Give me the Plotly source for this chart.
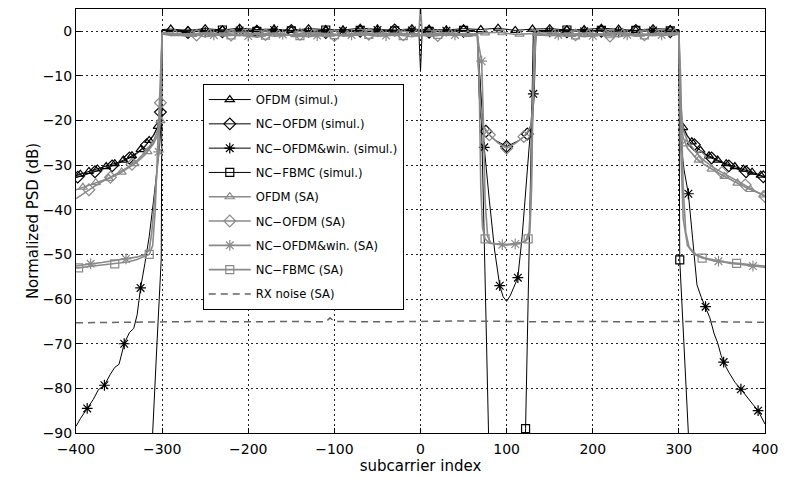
import numpy as np
import plotly.graph_objects as go

# ---------------------------------------------------------------------------
# Normalized PSD (dB) versus subcarrier index
# ---------------------------------------------------------------------------

# shared sample positions
LEFT_OOB = [-400, -390, -380, -370, -360, -350, -340, -330, -320, -310, -305, -301, -300]
RIGHT_OOB = [300, 301, 305, 310, 320, 330, 340, 350, 360, 370, 380, 390, 400]
PB_FULL_L = [-290, -270, -250, -230, -210, -190, -170, -150, -130, -110, -90, -70, -50, -30, -10]
PB_DC = [-2, 0, 2]
PB_FULL_R = [10, 30, 50, 70, 90, 110, 130, 150, 170, 190, 210, 230, 250, 270, 290]
PB_NC_L = [-290, -270, -250, -230, -210, -190, -170, -150, -130, -110, -90, -70, -50, -30, -10, 10, 30, 50]
PB_NC_R = [150, 170, 190, 210, 230, 250, 270, 290]

# ---- OFDM (simul.) --------------------------------------------------------
ofdm_sim_x = LEFT_OOB + PB_FULL_L + PB_DC + PB_FULL_R + RIGHT_OOB
ofdm_sim_y = ([-32.3, -31.7, -31.1, -30.6, -30.0, -29.3, -28.4, -27.3, -25.7, -23.2, -21.3, -18.5, 0.4]
              + [0.5, 0.2, 0.6, 0.3, 0.7, 0.4, 0.5, 0.2, 0.6, 0.4, 0.3, 0.7, 0.5, 0.2, 0.6]
              + [0.4, -9.0, 0.4]
              + [0.5, 0.3, 0.6, 0.4, 0.7, 0.2, 0.5, 0.6, 0.3, 0.4, 0.7, 0.5, 0.2, 0.6, 0.4]
              + [0.4, -18.5, -21.6, -23.6, -25.9, -27.4, -28.4, -29.3, -30.0, -30.6, -31.2, -31.9, -32.6])

# ---- NC-OFDM (simul.) -----------------------------------------------------
nc_ofdm_sim_notch_x = [62, 66, 68, 70, 76, 85, 100, 115, 124, 130, 132, 134, 138]
nc_ofdm_sim_x = LEFT_OOB + PB_NC_L + nc_ofdm_sim_notch_x + PB_NC_R + RIGHT_OOB
nc_ofdm_sim_y = ([-32.8, -32.2, -31.6, -31.0, -30.3, -29.5, -28.6, -27.5, -25.9, -23.4, -21.4, -17.0, 0.2]
                 + [0.1, -0.3, 0.2, -0.1, 0.3, 0.0, -0.2, 0.2, 0.1, -0.3, 0.2, 0.0, -0.1, 0.3, 0.1, -0.2, 0.2, 0.0]
                 + [0.1, -0.2, -14.0, -19.5, -22.4, -24.2, -25.8, -24.4, -23.0, -20.0, -14.5, -0.3, 0.1]
                 + [0.2, -0.1, 0.3, 0.0, -0.2, 0.2, 0.1, -0.1]
                 + [0.2, -17.0, -21.4, -23.4, -25.9, -27.5, -28.6, -29.5, -30.3, -31.0, -31.6, -32.2, -32.7])

# ---- NC-OFDM&win. (simul.) ------------------------------------------------
nc_win_sim_left_x = [-400, -395, -387, -380, -374, -367, -360, -355, -350, -344, -338, -333, -329,
                     -325, -320, -315, -310, -306, -303, -301, -300]
nc_win_sim_notch_x = [62, 66, 68, 72, 74, 80, 86, 92, 96, 100, 104, 108, 113, 118, 124, 128, 131, 133, 134, 138]
nc_win_sim_right_x = [300, 301, 303, 306, 311, 316, 321, 326, 331, 336, 341, 345, 349, 353, 358, 365,
                      372, 380, 386, 392, 396, 400]
nc_win_sim_x = nc_win_sim_left_x + PB_NC_L + nc_win_sim_notch_x + PB_NC_R + nc_win_sim_right_x
nc_win_sim_y = ([-88.5, -86.8, -84.5, -82.5, -80.3, -79.3, -76.8, -75.3, -74.6, -70.0, -67.5, -66.6, -63.5,
                 -57.5, -52.0, -46.0, -38.0, -31.0, -26.0, -20.0, 0.2]
                + [0.0, 0.3, -0.2, 0.1, 0.2, -0.1, 0.3, 0.0, -0.2, 0.2, 0.1, -0.1, 0.3, 0.0, 0.2, -0.1, 0.1, 0.2]
                + [0.1, -0.2, -8.0, -20.0, -26.0, -38.0, -49.0, -57.0, -59.5, -60.5, -59.3, -57.5, -55.2,
                   -46.0, -32.0, -22.0, -14.0, -5.0, -0.2, 0.1]
                + [-0.1, 0.2, 0.0, 0.3, -0.2, 0.1, 0.2, 0.0]
                + [0.2, -20.0, -26.0, -31.0, -36.4, -46.5, -56.8, -59.6, -61.7, -64.2, -67.8, -69.8, -72.6,
                   -74.6, -76.4, -78.6, -80.2, -82.0, -83.6, -85.0, -86.6, -88.0])

# ---- NC-FBMC (simul.) -----------------------------------------------------
nc_fbmc_sim_notch_x = [62, 66, 68, 70, 73, 76, 79, 82, 100, 119, 122, 125, 128, 130, 131, 138]
nc_fbmc_sim_x = ([-320, -311, -306, -301, -300] + PB_NC_L + nc_fbmc_sim_notch_x + PB_NC_R
                 + [300, 301, 306, 311, 320])
nc_fbmc_sim_y = ([-110.0, -90.0, -70.0, -51.0, 0.3]
                 + [0.2, -0.1, 0.1, 0.3, -0.2, 0.0, 0.2, 0.1, -0.1, 0.3, 0.0, 0.2, -0.2, 0.1, 0.3, 0.0, -0.1, 0.2]
                 + [0.1, -0.2, -8.0, -14.0, -38.0, -65.0, -90.0, -110.0, -130.0, -110.0, -89.0, -60.0,
                    -30.0, -10.0, -0.2, 0.1]
                 + [0.1, 0.3, -0.1, 0.2, 0.0, 0.2, -0.2, 0.1]
                 + [0.3, -51.2, -70.0, -90.0, -110.0])

# ---- OFDM (SA) ------------------------------------------------------------
ofdm_sa_left_x = [-400, -390, -380, -370, -360, -350, -340, -330, -320, -310, -305, -302, -300]
ofdm_sa_right_x = [300, 302, 305, 310, 320, 330, 340, 350, 360, 370, 380, 390, 400]
ofdm_sa_x = ofdm_sa_left_x + PB_FULL_L + PB_DC + PB_FULL_R + ofdm_sa_right_x
ofdm_sa_y = ([-35.5, -34.8, -34.1, -33.5, -32.8, -31.9, -30.7, -29.4, -27.7, -25.2, -23.2, -20.0, -0.3]
             + [-0.4, -0.8, -0.3, -0.6, -0.2, -0.7, -0.4, -0.9, -0.3, -0.5, -0.8, -0.2, -0.6, -0.4, -0.7]
             + [-0.5, 5.5, -0.5]
             + [-0.6, -0.3, -0.8, -0.4, -0.2, -0.7, -0.5, -0.3, -0.8, -0.4, -0.6, -0.2, -0.7, -0.5, -0.3]
             + [-0.3, -20.0, -23.8, -26.2, -28.4, -29.9, -31.1, -32.2, -33.2, -34.2, -35.2, -36.0, -36.8])

# ---- NC-OFDM (SA) ---------------------------------------------------------
nc_ofdm_sa_notch_x = [62, 66, 69, 72, 80, 90, 100, 110, 120, 128, 131, 134, 138]
nc_ofdm_sa_right_x = [300, 302, 305, 310, 320, 330, 340, 350, 360, 370, 377, 390, 400]
nc_ofdm_sa_x = ofdm_sa_left_x + PB_NC_L + nc_ofdm_sa_notch_x + PB_NC_R + nc_ofdm_sa_right_x
nc_ofdm_sa_y = ([-37.5, -36.1, -34.9, -33.7, -32.7, -31.6, -30.5, -29.1, -27.1, -24.6, -22.1, -16.0, -0.6]
                + [-0.9, -0.5, -1.2, -0.7, -1.0, -0.4, -1.1, -0.8, -0.5, -1.2, -0.7, -0.9, -0.4, -1.0, -0.6,
                   -1.1, -0.8, -0.5]
                + [-0.7, -0.9, -15.0, -21.0, -23.2, -25.0, -26.2, -25.1, -23.6, -21.5, -15.0, -0.9, -0.7]
                + [-0.8, -1.1, -0.5, -0.9, -1.2, -0.6, -1.0, -0.7]
                + [-0.6, -16.0, -22.1, -24.6, -27.1, -29.1, -30.5, -31.6, -32.7, -33.7, -34.4, -36.0, -37.0])

# ---- NC-OFDM&win. (SA) ----------------------------------------------------
nc_win_sa_left_x = [-400, -390, -383, -370, -360, -342, -330, -320, -315, -312, -308, -304, -302, -300]
nc_win_sa_notch_x = [62, 66, 68, 71, 73, 75, 78, 82, 95, 105, 115, 122, 126, 128, 130, 132, 134, 138]
nc_win_sa_right_x = [300, 302, 305, 310, 320, 330, 346, 360, 370, 386, 400]
nc_win_sa_x = nc_win_sa_left_x + PB_NC_L + nc_win_sa_notch_x + PB_NC_R + nc_win_sa_right_x
nc_win_sa_y = ([-52.6, -52.4, -52.1, -51.8, -51.5, -51.0, -50.6, -50.0, -49.0, -45.0, -36.0, -27.0, -18.0, -0.6]
               + [-0.7, -1.1, -0.6, -1.0, -0.8, -1.3, -0.5, -0.9, -1.2, -0.7, -1.0, -0.6, -1.1, -0.8, -0.5,
                  -1.0, -0.7, -0.9]
               + [-0.8, -0.9, -3.5, -6.7, -20.0, -38.0, -46.0, -47.5, -47.8, -47.8, -47.5, -47.0, -45.0,
                  -38.0, -20.0, -5.0, -0.9, -0.8]
               + [-1.0, -0.6, -1.2, -0.8, -0.5, -1.1, -0.7, -0.9]
               + [-0.6, -25.0, -42.0, -48.0, -50.0, -50.8, -51.5, -52.0, -52.2, -52.6, -52.9])

# ---- NC-FBMC (SA) ---------------------------------------------------------
nc_fbmc_sa_left_x = [-400, -397, -380, -360, -350, -340, -330, -320, -315, -311, -308, -305, -302, -300]
nc_fbmc_sa_notch_x = [62, 66, 68, 70, 72, 75, 80, 100, 120, 125, 127, 129, 131, 133, 138]
nc_fbmc_sa_right_x = [300, 302, 305, 308, 312, 318, 327, 340, 367, 385, 400]
nc_fbmc_sa_x = nc_fbmc_sa_left_x + PB_NC_L + nc_fbmc_sa_notch_x + PB_NC_R + nc_fbmc_sa_right_x
nc_fbmc_sa_y = ([-53.0, -53.0, -52.6, -52.2, -52.0, -51.7, -51.2, -50.5, -50.0, -48.0, -40.0, -25.0, -8.0, -0.5]
                + [-0.6, -1.0, -0.4, -0.9, -0.7, -1.2, -0.5, -0.8, -1.1, -0.6, -0.9, -0.4, -1.0, -0.7, -1.2,
                   -0.5, -0.9, -0.6]
                + [-0.7, -0.6, -10.0, -35.0, -44.0, -46.5, -47.5, -47.8, -47.2, -46.5, -45.0, -35.0, -10.0,
                   -0.6, -0.7]
                + [-0.9, -0.5, -1.1, -0.7, -0.4, -1.0, -0.6, -0.8]
                + [-0.5, -10.0, -35.0, -45.0, -48.5, -50.0, -50.8, -51.4, -52.0, -52.4, -52.6])

# ---- RX noise (SA) --------------------------------------------------------
rx_noise_x = [-400, -350, -300, -250, -200, -150, -110, -105, -100, -50, 0, 50, 100, 150, 200, 250, 300, 350, 400]
rx_noise_y = [-65.3, -65.2, -65.1, -65.0, -65.1, -65.0, -65.1, -64.2, -65.0, -65.1, -65.0, -64.9, -65.0,
              -65.1, -65.0, -65.1, -65.0, -65.1, -65.2]

# marker positions (subcarrier index) for each curve
def passband_marks(start, step, notch=False):
    xs = list(range(start, 296, step))
    if notch:
        xs = [v for v in xs if not (58 <= v <= 142)]
    return [v for v in xs if abs(v) > 4]

ofdm_sim_marks = list(range(-395, -300, 10)) + passband_marks(-290, 20) + list(range(305, 400, 10))
nc_ofdm_sim_marks = [-398, -378, -358, -338, -318, -302] + passband_marks(-270, 40, True) + [76, 100, 124] + [318, 338, 358, 378, 398]
nc_win_sim_marks = [-387, -367, -344, -325] + passband_marks(-250, 40, True) + [74, 92, 113, 131] + [311, 331, 352, 372, 392]
nc_fbmc_sim_marks = passband_marks(-230, 40, True) + [122, 301]
ofdm_sa_marks = list(range(-392, -300, 15)) + passband_marks(-285, 20) + list(range(308, 400, 15))
nc_ofdm_sa_marks = [-385, -360, -335, -302] + passband_marks(-260, 40, True) + [80, 100, 120] + [325, 350, 377, 400]
nc_win_sa_marks = [-383, -342, -304] + passband_marks(-240, 40, True) + [71, 95, 110] + [346, 386]
nc_fbmc_sa_marks = [-397, -355, -315] + passband_marks(-220, 40, True) + [75, 125] + [327, 367]

BLACK = "#000000"
GRAY = "#8a8a8a"

series = [
    ("OFDM (simul.)", ofdm_sim_x, ofdm_sim_y, ofdm_sim_marks, BLACK, 1.0, "triangle-up-open", 8),
    ("NC\u2212OFDM (simul.)", nc_ofdm_sim_x, nc_ofdm_sim_y, nc_ofdm_sim_marks, BLACK, 1.0, "diamond-open", 9),
    ("NC\u2212OFDM&win. (simul.)", nc_win_sim_x, nc_win_sim_y, nc_win_sim_marks, BLACK, 1.0, "asterisk-open", 9),
    ("NC\u2212FBMC (simul.)", nc_fbmc_sim_x, nc_fbmc_sim_y, nc_fbmc_sim_marks, BLACK, 1.0, "square-open", 8),
    ("OFDM (SA)", ofdm_sa_x, ofdm_sa_y, ofdm_sa_marks, GRAY, 1.6, "triangle-up-open", 8),
    ("NC\u2212OFDM (SA)", nc_ofdm_sa_x, nc_ofdm_sa_y, nc_ofdm_sa_marks, GRAY, 1.6, "diamond-open", 9),
    ("NC\u2212OFDM&win. (SA)", nc_win_sa_x, nc_win_sa_y, nc_win_sa_marks, GRAY, 1.6, "asterisk-open", 9),
    ("NC\u2212FBMC (SA)", nc_fbmc_sa_x, nc_fbmc_sa_y, nc_fbmc_sa_marks, GRAY, 1.6, "square-open", 8),
]

fig = go.Figure()

for i, (name, xs, ys, marks, color, width, symbol, msize) in enumerate(series):
    xs = np.asarray(xs, dtype=float)
    ys = np.asarray(ys, dtype=float)
    mx = np.asarray(marks, dtype=float)
    my = np.interp(mx, xs, ys)
    group = f"g{i}"
    fig.add_trace(go.Scatter(x=xs, y=ys, mode="lines", line=dict(color=color, width=width),
                             legendgroup=group, showlegend=False, hoverinfo="skip"))
    fig.add_trace(go.Scatter(x=mx, y=my, mode="markers",
                             marker=dict(symbol=symbol, size=msize, color=color,
                                         line=dict(color=color, width=1.2)),
                             legendgroup=group, showlegend=False, hoverinfo="skip"))
    # legend entry
    fig.add_trace(go.Scatter(x=[None], y=[None], mode="lines+markers", name=name,
                             line=dict(color=color, width=width),
                             marker=dict(symbol=symbol, size=msize, color=color,
                                         line=dict(color=color, width=1.2)),
                             legendgroup=group, showlegend=True))

fig.add_trace(go.Scatter(x=rx_noise_x, y=rx_noise_y, mode="lines", name="RX noise (SA)",
                         line=dict(color="#666666", width=1.5, dash="7px,5px"),
                         legendgroup="g8", showlegend=True))

axis_common = dict(
    showline=True, linecolor="black", linewidth=1, mirror="ticks",
    ticks="inside", ticklen=5, tickcolor="black",
    showgrid=True, gridcolor="#222222", gridwidth=1, griddash="2px,3px",
    zeroline=False,
    tickfont=dict(family="DejaVu Sans", size=14, color="black"),
)

fig.update_xaxes(range=[-400, 400], tickvals=[-400, -300, -200, -100, 0, 100, 200, 300, 400],
                 ticklabelstandoff=3,
                 title=dict(text="subcarrier index", font=dict(family="DejaVu Sans", size=15, color="black"),
                            standoff=0),
                 **axis_common)
fig.update_yaxes(range=[-90, 5], tickvals=[-90, -80, -70, -60, -50, -40, -30, -20, -10, 0],
                 title=dict(text="Normalized PSD (dB)", font=dict(family="DejaVu Sans", size=15, color="black"),
                            standoff=0),
                 **axis_common)

fig.update_layout(
    width=788, height=477,
    margin=dict(l=76, r=23, t=9, b=44),
    paper_bgcolor="white", plot_bgcolor="white",
    showlegend=True,
    legend=dict(
        x=0.184, y=0.823, xanchor="left", yanchor="top",
        bgcolor="white", bordercolor="black", borderwidth=1,
        font=dict(family="DejaVu Sans", size=11.6, color="black"),
        traceorder="grouped", tracegroupgap=5.3, itemwidth=42,
    ),
)

fig.write_html("out.html")
